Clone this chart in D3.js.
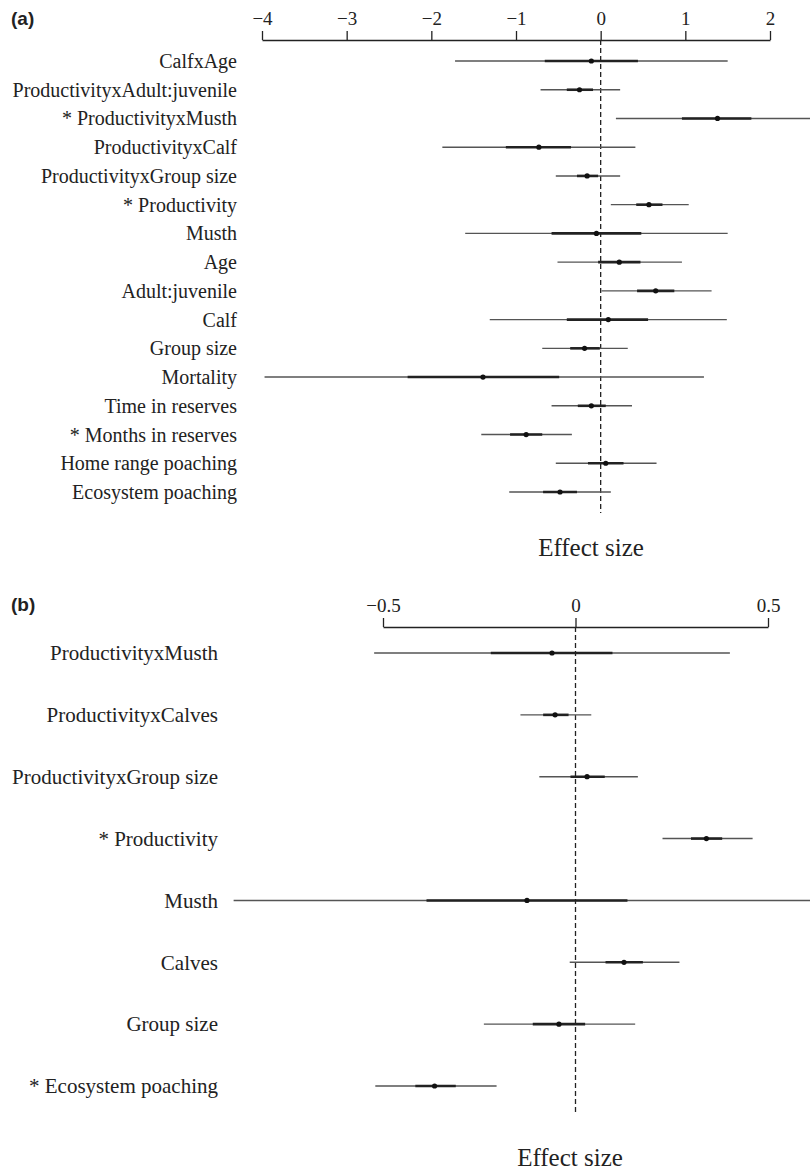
<!DOCTYPE html>
<html>
<head>
<meta charset="utf-8">
<script src="https://cdn.jsdelivr.net/npm/d3@7"></script>
<style>
  html, body { margin: 0; padding: 0; background: #fff; }
  svg { display: block; }
</style>
</head>
<body>
<svg id="chart" width="810" height="1174"></svg>
<script>
// ---------- Panel (a) data ----------
const labelsA = [
  "CalfxAge", "ProductivityxAdult:juvenile", "* ProductivityxMusth", "ProductivityxCalf",
  "ProductivityxGroup size", "* Productivity", "Musth", "Age", "Adult:juvenile", "Calf",
  "Group size", "Mortality", "Time in reserves", "* Months in reserves",
  "Home range poaching", "Ecosystem poaching"
];
const estA     = [-0.11, -0.25, 1.38, -0.73, -0.16, 0.57, -0.05, 0.22, 0.65, 0.09, -0.19, -1.39, -0.11, -0.88, 0.06, -0.48];
const outerLoA = [-1.72, -0.71, 0.18, -1.87, -0.53, 0.12, -1.60, -0.51, 0.01, -1.31, -0.69, -3.97, -0.58, -1.41, -0.53, -1.08];
const outerHiA = [1.50, 0.23, 2.60, 0.41, 0.23, 1.04, 1.50, 0.96, 1.31, 1.49, 0.32, 1.22, 0.37, -0.34, 0.66, 0.12];
const innerLoA = [-0.66, -0.40, 0.96, -1.12, -0.28, 0.42, -0.58, -0.03, 0.43, -0.40, -0.36, -2.28, -0.27, -1.07, -0.15, -0.68];
const innerHiA = [0.44, -0.09, 1.78, -0.35, -0.03, 0.73, 0.48, 0.47, 0.87, 0.56, -0.01, -0.49, 0.06, -0.69, 0.27, -0.28];
const ticksA = [-4, -3, -2, -1, 0, 1, 2];

// ---------- Panel (b) data ----------
const labelsB = [
  "ProductivityxMusth", "ProductivityxCalves", "ProductivityxGroup size", "* Productivity",
  "Musth", "Calves", "Group size", "* Ecosystem poaching"
];
const estB     = [-0.061, -0.053, 0.030, 0.340, -0.126, 0.126, -0.043, -0.366];
const outerLoB = [-0.523, -0.143, -0.094, 0.226, -0.888, -0.015, -0.238, -0.520];
const outerHiB = [0.401, 0.041, 0.162, 0.460, 0.650, 0.270, 0.155, -0.205];
const innerLoB = [-0.220, -0.084, -0.013, 0.300, -0.387, 0.078, -0.111, -0.416];
const innerHiB = [0.096, -0.018, 0.076, 0.381, 0.135, 0.175, 0.025, -0.311];
const ticksB = [-0.5, 0, 0.5];

const axisTitle = "Effect size";
const serif = "'Liberation Serif', 'Times New Roman', serif";
const fmt = v => (v < 0 ? "\u2212" : "") + Math.abs(v);

const svg = d3.select("#chart");

function panel(cfg) {
  const g = svg.append("g");
  const x = d3.scaleLinear().domain(cfg.domain).range(cfg.xRange);
  const y = d3.scalePoint().domain(cfg.labels).range(cfg.yRange);

  g.append("text")
    .attr("x", 11).attr("y", cfg.letterY)
    .attr("font-family", "'Liberation Sans', Arial, sans-serif")
    .attr("font-weight", "bold").attr("font-size", 19)
    .attr("fill", "#222")
    .text(cfg.letter);

  const ax = g.append("g")
    .attr("transform", `translate(0,${cfg.axisY})`)
    .call(d3.axisTop(x).tickValues(cfg.ticks).tickFormat(fmt).tickSize(9).tickSizeOuter(0).tickPadding(6));
  ax.select(".domain").attr("stroke", "#222").attr("stroke-width", 1.5);
  ax.selectAll(".tick line").attr("stroke", "#222").attr("stroke-width", 1.3);
  ax.selectAll(".tick text")
    .attr("font-family", serif).attr("font-size", cfg.tickFont).attr("fill", "#222");

  g.append("line")
    .attr("x1", x(0)).attr("x2", x(0))
    .attr("y1", cfg.axisY).attr("y2", cfg.dashEnd)
    .attr("stroke", "#222").attr("stroke-width", 1.3)
    .attr("stroke-dasharray", "5,3");

  const idx = d3.range(cfg.labels.length);

  g.selectAll("text.lab").data(idx).join("text")
    .attr("class", "lab")
    .attr("x", cfg.labelX)
    .attr("y", i => y(cfg.labels[i]))
    .attr("dy", "0.35em")
    .attr("text-anchor", "end")
    .attr("font-family", serif).attr("font-size", cfg.labelFont)
    .attr("fill", "#222")
    .text(i => cfg.labels[i]);

  g.selectAll("line.outer").data(idx).join("line")
    .attr("class", "outer")
    .attr("x1", i => x(cfg.outerLo[i])).attr("x2", i => x(cfg.outerHi[i]))
    .attr("y1", i => y(cfg.labels[i])).attr("y2", i => y(cfg.labels[i]))
    .attr("stroke", "#555").attr("stroke-width", 1.4);

  g.selectAll("line.inner").data(idx).join("line")
    .attr("class", "inner")
    .attr("x1", i => x(cfg.innerLo[i])).attr("x2", i => x(cfg.innerHi[i]))
    .attr("y1", i => y(cfg.labels[i])).attr("y2", i => y(cfg.labels[i]))
    .attr("stroke", "#222").attr("stroke-width", 2.6);

  g.selectAll("circle.est").data(idx).join("circle")
    .attr("class", "est")
    .attr("cx", i => x(cfg.est[i]))
    .attr("cy", i => y(cfg.labels[i]))
    .attr("r", 2.6)
    .attr("fill", "#111");

  g.append("text")
    .attr("x", cfg.titleX).attr("y", cfg.titleY)
    .attr("text-anchor", "middle")
    .attr("font-family", serif).attr("font-size", cfg.titleFont)
    .attr("fill", "#222")
    .text(axisTitle);
}

panel({
  letter: "(a)", letterY: 25,
  labels: labelsA, est: estA, outerLo: outerLoA, outerHi: outerHiA, innerLo: innerLoA, innerHi: innerHiA,
  ticks: ticksA, domain: [-4, 2], xRange: [262, 770],
  yRange: [61, 492], axisY: 40, dashEnd: 513,
  labelX: 237, labelFont: 20, tickFont: 19,
  titleX: 591, titleY: 556, titleFont: 25
});

panel({
  letter: "(b)", letterY: 611,
  labels: labelsB, est: estB, outerLo: outerLoB, outerHi: outerHiB, innerLo: innerLoB, innerHi: innerHiB,
  ticks: ticksB, domain: [-0.5, 0.5], xRange: [383, 768],
  yRange: [653, 1086], axisY: 627, dashEnd: 1114,
  labelX: 218, labelFont: 21, tickFont: 19,
  titleX: 570, titleY: 1166, titleFont: 25
});
</script>
</body>
</html>
